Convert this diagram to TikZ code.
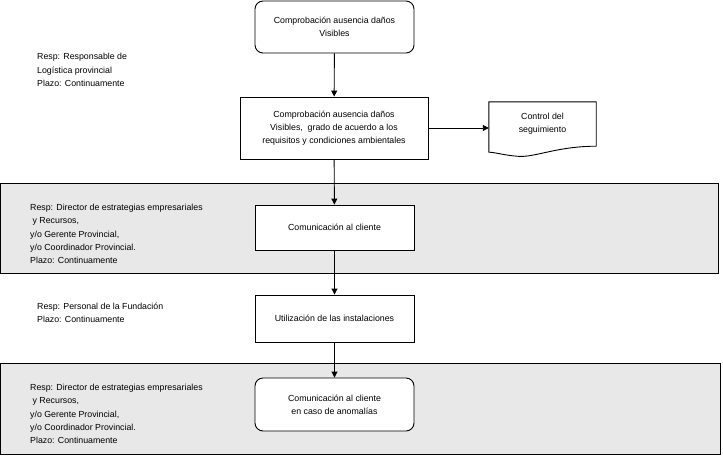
\documentclass[tikz,border=0pt]{standalone}
\usepackage{fontspec}
\setmainfont{Liberation Sans}
\usetikzlibrary{arrows.meta,calc}
\definecolor{bandgrey}{HTML}{E8E8E8}
\begin{document}
\begin{tikzpicture}[x=1pt,y=-1pt,
  txt/.style={font=\fontsize{8.8}{13.2}\selectfont, inner sep=0pt},
  proc/.style={draw, line width=0.9pt, fill=white, txt, align=center, minimum width=159pt},
  roundproc/.style={proc, rounded corners=8pt},
  band/.style={draw, line width=0.9pt, fill=bandgrey},
  note/.style={txt, align=left, anchor=west},
  flow/.style={draw, line width=0.9pt, -{Triangle[length=6pt,width=6pt]}}
]
\useasboundingbox (0,0) rectangle (723,467);

% shaded responsibility bands
\path[band] (0.5,183) rectangle (718,273);
\path[band] (0.5,363) rectangle (720,454);

% process steps
\node[roundproc, minimum height=52pt] (b1) at (334.5,27)
  {Comprobación ausencia daños\\Visibles};
\node[proc, minimum width=188pt, minimum height=62pt] (b2) at (334,128)
  {Comprobación ausencia daños\\Visibles,\ \ grado de acuerdo a los\\requisitos y condiciones ambientales};
\node[proc, minimum height=45pt] (b3) at (334.5,227.5) {Comunicación al cliente};
\node[proc, minimum height=47pt] (b4) at (334.5,318.5) {Utilización de las instalaciones};
\node[roundproc, minimum height=53pt] (b5) at (334.5,404.5)
  {Comunicación al cliente\\en caso de anomalías};

% document symbol
\node[txt, align=center, minimum width=107pt, minimum height=44pt] (ctrl) at (542.5,124)
  {Control del\\seguimiento};
\draw[line width=0.9pt, fill=white] (ctrl.north west) -- (ctrl.north east) -- (ctrl.south east)
  .. controls ($(ctrl.south east)+(-40,0)$) and ($(ctrl.south west)+(45,12)$) .. ($(ctrl.south west)+(28,10)$)
  .. controls ($(ctrl.south west)+(15,9)$) and ($(ctrl.south west)+(6,6)$) .. ($(ctrl.south west)+(0,6)$)
  -- cycle;
\node[txt, align=center] at (ctrl) {Control del\\seguimiento};

% connectors
\path[flow] (b1) -- (b2);
\path[flow] (b2.east) -- (b2.east -| ctrl.west);
\path[flow] (b2) -- (b3);
\path[flow] (b3) -- (b4);
\path[flow] (b4) -- (b5);

% responsibility notes
\node[note] (n1) at (37,70) {Resp: Responsable de\\Logística provincial\\Plazo: Continuamente};
\node[note] (n2) at (30,234) {Resp: Director de estrategias empresariales\\\ y Recursos,\\y/o Gerente Provincial,\\y/o Coordinador Provincial.\\Plazo: Continuamente};
\node[note] (n3) at (37,313) {Resp: Personal de la Fundación\\Plazo: Continuamente};
\node[note] (n4) at (30,414) {Resp: Director de estrategias empresariales\\\ y Recursos,\\y/o Gerente Provincial,\\y/o Coordinador Provincial.\\Plazo: Continuamente};
\end{tikzpicture}
\end{document}
